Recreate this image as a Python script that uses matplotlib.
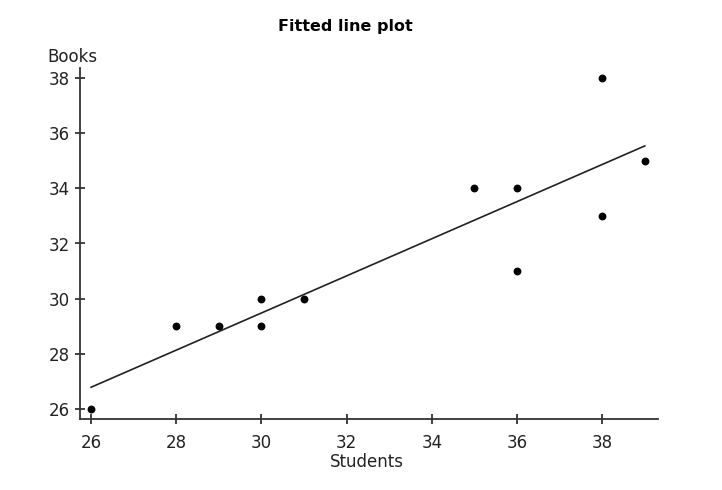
import matplotlib
matplotlib.use("Agg")
import matplotlib.pyplot as plt
import numpy as np

students = [26, 28, 29, 30, 30, 31, 35, 36, 36, 38, 38, 39]
books = [26, 29, 29, 30, 29, 30, 34, 34, 31, 38, 33, 35]
xticks = [26, 28, 30, 32, 34, 36, 38]
yticks = [26, 28, 30, 32, 34, 36, 38]

plt.rcParams['font.family'] = ['DejaVu Sans']

fig = plt.figure(figsize=(7.22, 4.9), dpi=100)
ax = fig.add_axes([80/722, 1-419/490, (658-80)/722, (419-68)/490])

ax.scatter(students, books, s=32, color='black', zorder=3, linewidths=0)

slope, intercept = np.polyfit(students, books, 1)
xl = np.array([min(students), max(students)])
ax.plot(xl, slope*xl + intercept, color='#222222', lw=1.2)

ax.set_xlim(25.74, 39.31)
ax.set_ylim(25.64, 38.36)
ax.set_xticks(xticks)
ax.set_yticks(yticks)
for s in ['top', 'right']:
    ax.spines[s].set_visible(False)
for s in ['left', 'bottom']:
    ax.spines[s].set_linewidth(1.3)
    ax.spines[s].set_color('#333333')
ax.tick_params(direction='inout', length=7, width=1.2, labelsize=12, color='#222222', labelcolor='#222222')
ax.tick_params(axis='x', pad=7)
ax.tick_params(axis='y', pad=4)

fig.text(345/722, 1-27/490, 'Fitted line plot', ha='center', va='center', fontsize=11.5, fontweight='bold')
fig.text(47/722, 1-57/490, 'Books', ha='left', va='center', fontsize=12, color='#222222')
fig.text(367/722, 1-462/490, 'Students', ha='center', va='center', fontsize=12, color='#222222')

fig.savefig('out.png', dpi=100)
